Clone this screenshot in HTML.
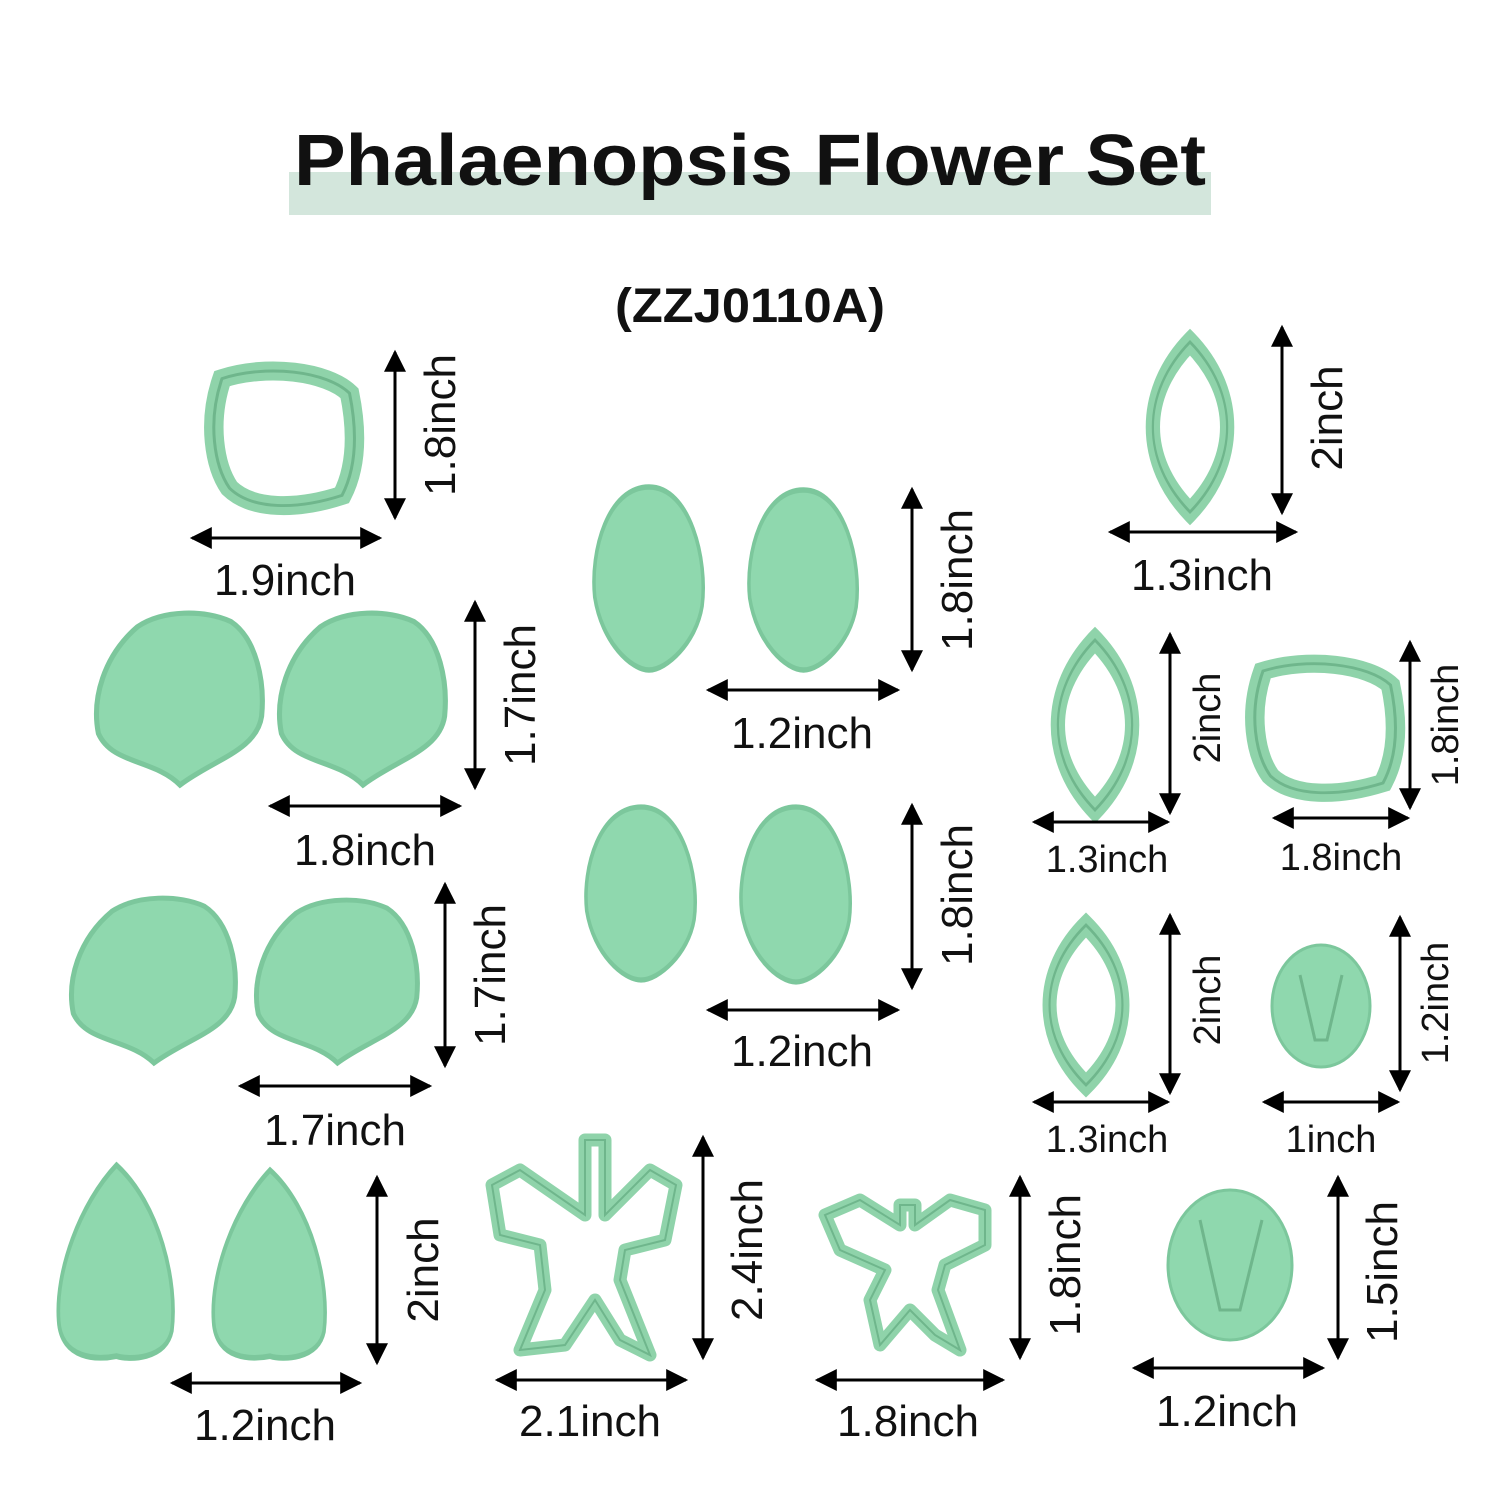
<!DOCTYPE html>
<html><head><meta charset="utf-8"><style>
html,body{margin:0;padding:0;background:#fff;}
svg{display:block;}
text{font-family:"Liberation Sans",sans-serif;fill:#111;}
</style></head><body>
<svg width="1500" height="1500" viewBox="0 0 1500 1500" xmlns="http://www.w3.org/2000/svg">
<defs>
<path id="shell" d="M50,100 C35,85 10,88 2,70 C-2,50 5,25 25,8 C40,-2 65,-2 80,5 C95,15 100,40 98,60 C95,80 70,85 50,100Z"/>
<path id="leaf" d="M50,0 C85,20 100,60 95,85 C90,100 60,100 50,98 C35,100 5,100 3,80 C0,55 20,20 50,0Z"/>
<path id="egg" d="M50,0 C85,0 100,40 95,65 C90,85 65,100 50,100 C35,100 10,85 4,60 C0,35 15,0 50,0Z"/>
<path id="sq" d="M10,10 C40,0 80,5 95,20 C100,45 100,70 90,90 C60,100 30,100 15,85 C5,70 0,40 10,10Z"/>
<path id="ves" d="M50,0 C95,30 95,70 50,100 C5,70 5,30 50,0Z"/>
<marker id="ah2" viewBox="0 0 10 10" refX="9" refY="5" markerWidth="28" markerHeight="22" markerUnits="userSpaceOnUse" orient="auto-start-reverse"><path d="M0,0 L10,5 L0,10Z" fill="#000"/></marker>
</defs>
<style>
.p{fill:#8fd8ae;stroke:#7cc79c;stroke-width:3;vector-effect:non-scaling-stroke;}
.c{fill:none;stroke:#8fd3aa;stroke-width:13;vector-effect:non-scaling-stroke;}
.ci{fill:none;stroke:#6fb68c;stroke-width:2;vector-effect:non-scaling-stroke;}
.a{marker-start:url(#ah2);marker-end:url(#ah2);}
.L{font-size:44px;}
.S{font-size:38px;}
</style>

<rect x="289" y="172" width="922" height="43" fill="#d3e6dc"/>
<text x="750" y="185" text-anchor="middle" font-size="72" font-weight="bold" textLength="912" lengthAdjust="spacingAndGlyphs">Phalaenopsis Flower Set</text>
<text x="750" y="322" text-anchor="middle" font-size="48" font-weight="bold" textLength="270" lengthAdjust="spacingAndGlyphs">(ZZJ0110A)</text>

<g transform="translate(207,364) scale(1.5,1.46)"><use href="#sq" class="c"/><use href="#sq" class="ci"/></g>
<g transform="translate(95,613) scale(1.7,1.72)"><use href="#shell" class="p"/></g>
<g transform="translate(278,613) scale(1.7,1.72)"><use href="#shell" class="p"/></g>
<g transform="translate(70,898) scale(1.68,1.65)"><use href="#shell" class="p"/></g>
<g transform="translate(255,900) scale(1.65,1.63)"><use href="#shell" class="p"/></g>
<g transform="translate(55,1165) scale(1.23,1.95)"><use href="#leaf" class="p"/></g>
<g transform="translate(210,1170) scale(1.2,1.9)"><use href="#leaf" class="p"/></g>
<g transform="translate(590,487) scale(1.18,1.83)"><use href="#egg" class="p"/></g>
<g transform="translate(745,490) scale(1.17,1.8)"><use href="#egg" class="p"/></g>
<g transform="translate(582,807) scale(1.18,1.73)"><use href="#egg" class="p"/></g>
<g transform="translate(737,807) scale(1.18,1.75)"><use href="#egg" class="p"/></g>
<g transform="translate(1135,342) scale(1.1,1.7)"><use href="#ves" class="c"/><use href="#ves" class="ci"/></g>
<g transform="translate(1040,640) scale(1.1,1.7)"><use href="#ves" class="c"/><use href="#ves" class="ci"/></g>
<g transform="translate(1032,925) scale(1.08,1.6)"><use href="#ves" class="c"/><use href="#ves" class="ci"/></g>
<g transform="translate(1248,657) scale(1.5,1.4)"><use href="#sq" class="c"/><use href="#sq" class="ci"/></g>
<ellipse cx="1321" cy="1006" rx="49" ry="61" class="p"/>
<path d="M1300,975 L1315,1040 L1327,1040 L1342,975" fill="none" stroke="#6fb68c" stroke-width="3"/>
<ellipse cx="1230" cy="1265" rx="62" ry="75" class="p"/>
<path d="M1200,1220 L1220,1310 L1240,1310 L1262,1220" fill="none" stroke="#6fb68c" stroke-width="3"/>
<path d="M585,1140 L605,1140 L605,1215 L650,1170 L676,1185 L665,1240 L625,1250 L620,1280 L650,1355 L620,1340 L595,1300 L565,1345 L520,1350 L545,1290 L540,1245 L500,1235 L492,1185 L520,1170 L585,1215Z" fill="none" stroke="#8fd3aa" stroke-width="13" stroke-linejoin="round"/>
<path d="M585,1140 L605,1140 L605,1215 L650,1170 L676,1185 L665,1240 L625,1250 L620,1280 L650,1355 L620,1340 L595,1300 L565,1345 L520,1350 L545,1290 L540,1245 L500,1235 L492,1185 L520,1170 L585,1215Z" fill="none" stroke="#6fb68c" stroke-width="2"/>
<path d="M900,1205 L915,1205 L915,1225 L950,1200 L985,1210 L985,1245 L945,1265 L938,1290 L960,1350 L935,1335 L910,1310 L880,1345 L870,1300 L885,1270 L840,1250 L825,1215 L860,1200 L900,1225Z" fill="none" stroke="#8fd3aa" stroke-width="13" stroke-linejoin="round"/>
<path d="M900,1205 L915,1205 L915,1225 L950,1200 L985,1210 L985,1245 L945,1265 L938,1290 L960,1350 L935,1335 L910,1310 L880,1345 L870,1300 L885,1270 L840,1250 L825,1215 L860,1200 L900,1225Z" fill="none" stroke="#6fb68c" stroke-width="2"/>

<g stroke="#000" stroke-width="3">
<line x1="395" y1="352" x2="395" y2="518" class="a"/>
<line x1="192" y1="538" x2="380" y2="538" class="a"/>
<line x1="475" y1="602" x2="475" y2="788" class="a"/>
<line x1="270" y1="806" x2="460" y2="806" class="a"/>
<line x1="445" y1="884" x2="445" y2="1066" class="a"/>
<line x1="240" y1="1086" x2="430" y2="1086" class="a"/>
<line x1="377" y1="1177" x2="377" y2="1363" class="a"/>
<line x1="172" y1="1383" x2="360" y2="1383" class="a"/>
<line x1="912" y1="489" x2="912" y2="670" class="a"/>
<line x1="708" y1="690" x2="898" y2="690" class="a"/>
<line x1="912" y1="805" x2="912" y2="988" class="a"/>
<line x1="708" y1="1010" x2="898" y2="1010" class="a"/>
<line x1="703" y1="1137" x2="703" y2="1358" class="a"/>
<line x1="497" y1="1380" x2="686" y2="1380" class="a"/>
<line x1="1020" y1="1177" x2="1020" y2="1358" class="a"/>
<line x1="817" y1="1380" x2="1003" y2="1380" class="a"/>
<line x1="1338" y1="1177" x2="1338" y2="1358" class="a"/>
<line x1="1134" y1="1368" x2="1323" y2="1368" class="a"/>
<line x1="1282" y1="327" x2="1282" y2="513" class="a"/>
<line x1="1110" y1="532" x2="1296" y2="532" class="a"/>
<line x1="1170" y1="634" x2="1170" y2="813" class="a"/>
<line x1="1034" y1="822" x2="1168" y2="822" class="a"/>
<line x1="1410" y1="642" x2="1410" y2="808" class="a"/>
<line x1="1274" y1="818" x2="1408" y2="818" class="a"/>
<line x1="1170" y1="915" x2="1170" y2="1093" class="a"/>
<line x1="1034" y1="1102" x2="1168" y2="1102" class="a"/>
<line x1="1400" y1="917" x2="1400" y2="1090" class="a"/>
<line x1="1264" y1="1102" x2="1398" y2="1102" class="a"/>
</g>

<text class="L" x="285" y="595" text-anchor="middle">1.9inch</text>
<text class="L" x="365" y="865" text-anchor="middle">1.8inch</text>
<text class="L" x="335" y="1145" text-anchor="middle">1.7inch</text>
<text class="L" x="265" y="1440" text-anchor="middle">1.2inch</text>
<text class="L" x="802" y="748" text-anchor="middle">1.2inch</text>
<text class="L" x="802" y="1066" text-anchor="middle">1.2inch</text>
<text class="L" x="590" y="1436" text-anchor="middle">2.1inch</text>
<text class="L" x="908" y="1436" text-anchor="middle">1.8inch</text>
<text class="L" x="1227" y="1426" text-anchor="middle">1.2inch</text>
<text class="L" x="1202" y="590" text-anchor="middle">1.3inch</text>
<text class="S" x="1107" y="872" text-anchor="middle">1.3inch</text>
<text class="S" x="1341" y="870" text-anchor="middle">1.8inch</text>
<text class="S" x="1107" y="1152" text-anchor="middle">1.3inch</text>
<text class="S" x="1331" y="1152" text-anchor="middle">1inch</text>
<text class="L" transform="translate(455,425) rotate(-90)" text-anchor="middle">1.8inch</text>
<text class="L" transform="translate(535,695) rotate(-90)" text-anchor="middle">1.7inch</text>
<text class="L" transform="translate(505,975) rotate(-90)" text-anchor="middle">1.7inch</text>
<text class="L" transform="translate(438,1270) rotate(-90)" text-anchor="middle">2inch</text>
<text class="L" transform="translate(972,580) rotate(-90)" text-anchor="middle">1.8inch</text>
<text class="L" transform="translate(972,895) rotate(-90)" text-anchor="middle">1.8inch</text>
<text class="L" transform="translate(762,1250) rotate(-90)" text-anchor="middle">2.4inch</text>
<text class="L" transform="translate(1080,1265) rotate(-90)" text-anchor="middle">1.8inch</text>
<text class="L" transform="translate(1397,1272) rotate(-90)" text-anchor="middle">1.5inch</text>
<text class="L" transform="translate(1342,418) rotate(-90)" text-anchor="middle">2inch</text>
<text class="S" transform="translate(1220,718) rotate(-90)" text-anchor="middle">2inch</text>
<text class="S" transform="translate(1458,725) rotate(-90)" text-anchor="middle">1.8inch</text>
<text class="S" transform="translate(1220,1000) rotate(-90)" text-anchor="middle">2inch</text>
<text class="S" transform="translate(1448,1003) rotate(-90)" text-anchor="middle">1.2inch</text>
</svg>
</body></html>
